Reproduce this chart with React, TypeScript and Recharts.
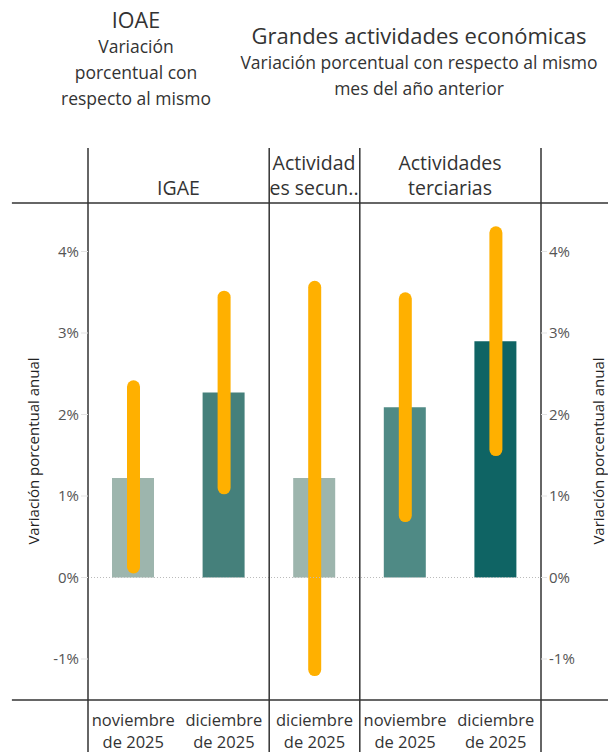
import React from "react";
import {
  ComposedChart,
  Bar,
  Cell,
  XAxis,
  YAxis,
  ReferenceLine,
} from "recharts";

// valores (variación porcentual anual)
const monthLabels = [
  ["noviembre", "de 2025"],
  ["diciembre", "de 2025"],
  ["diciembre", "de 2025"],
  ["noviembre", "de 2025"],
  ["diciembre", "de 2025"],
];
const positions = [0.5, 1.5, 2.5, 3.5, 4.5];
const estimates = [1.22, 2.27, 1.22, 2.09, 2.9];
const lowBounds = [0.13, 1.1, -1.13, 0.76, 1.57];
const highBounds = [2.34, 3.44, 3.56, 3.42, 4.23];
const barColors = ["#9db5ad", "#45807b", "#9db5ad", "#4f8a85", "#0f6464"];
const panelEdges = [0, 2, 3, 5];
const yTicks = [-1, 0, 1, 2, 3, 4];

const data = positions.map((x, i) => ({
  x,
  value: estimates[i],
  range: [lowBounds[i], highBounds[i]],
}));

const FONT = "'Open Sans', sans-serif";
const Y_DOMAIN: [number, number] = [-1.503, 4.595];

function RangeShape(props: any) {
  const { x, y, width, height } = props;
  const w = 13;
  const cx = x + width / 2;
  return (
    <rect
      x={cx - w / 2}
      y={y - w / 2}
      width={w}
      height={height + w}
      rx={w / 2}
      fill="#ffb000"
    />
  );
}

function MonthTick(props: any) {
  const { x, y, payload } = props;
  const idx = Math.floor(payload.value);
  const lines = monthLabels[idx] ?? [];
  return (
    <g>
      {lines.map((t, i) => (
        <text
          key={i}
          x={x}
          y={y + 24 + i * 22}
          textAnchor="middle"
          fontSize={16.5}
          fill="#333"
          fontFamily={FONT}
        >
          {t}
        </text>
      ))}
    </g>
  );
}

function Label({ text, cx, cy, size = 17.5, color = "#333" }: any) {
  return (
    <div
      style={{
        position: "absolute",
        left: cx - 200,
        width: 400,
        top: cy - 13,
        height: 26,
        lineHeight: "26px",
        textAlign: "center",
        fontSize: size,
        color,
        fontFamily: FONT,
        whiteSpace: "nowrap",
      }}
    >
      {text}
    </div>
  );
}

function AxisTitle({ cx }: { cx: number }) {
  return (
    <div
      style={{
        position: "absolute",
        left: cx - 150,
        top: 451 - 10,
        width: 300,
        height: 20,
        lineHeight: "20px",
        textAlign: "center",
        fontSize: 15,
        color: "#222",
        fontFamily: FONT,
        transform: "rotate(-90deg)",
        whiteSpace: "nowrap",
      }}
    >
      Variación porcentual anual
    </div>
  );
}

export default function App() {
  const tickStyle = { fontSize: 15, fill: "#555", fontFamily: FONT };
  return (
    <div
      style={{
        position: "absolute",
        left: 0,
        top: 0,
        width: 608,
        height: 752,
        background: "#fff",
        overflow: "hidden",
      }}
    >
      <Label text="IOAE" cx={136} cy={20} size={21.5} />
      <Label text="Variación" cx={136} cy={46} />
      <Label text="porcentual con" cx={136} cy={72} />
      <Label text="respecto al mismo" cx={136} cy={98} />
      <Label text="Grandes actividades económicas" cx={419} cy={35} size={22} />
      <Label text="Variación porcentual con respecto al mismo" cx={419} cy={62} />
      <Label text="mes del año anterior" cx={419} cy={88} />

      <Label text="IGAE" cx={178.5} cy={188} size={19.5} />
      <Label text="Actividad" cx={314} cy={163} size={19.5} />
      <Label text="es secun.." cx={314} cy={188} size={19.5} />
      <Label text="Actividades" cx={450} cy={163} size={19.5} />
      <Label text="terciarias" cx={450} cy={188} size={19.5} />

      <AxisTitle cx={33} />
      <AxisTitle cx={598} />

      <div style={{ position: "absolute", left: 0, top: 0 }}>
        <ComposedChart
          width={608}
          height={752}
          data={data}
          margin={{ top: 203, right: 0, bottom: 0, left: 0 }}
        >
          <XAxis
            xAxisId="bars"
            dataKey="x"
            type="number"
            domain={[0, 5]}
            ticks={positions}
            tick={<MonthTick />}
            tickLine={false}
            axisLine={false}
            tickSize={0}
            height={52}
            interval={0}
          />
          <XAxis
            xAxisId="range"
            dataKey="x"
            type="number"
            domain={[0, 5]}
            hide
          />
          <YAxis
            yAxisId="left"
            orientation="left"
            width={88}
            domain={Y_DOMAIN}
            ticks={yTicks}
            allowDataOverflow
            tickFormatter={(v: number) => `${v}%`}
            tick={tickStyle}
            tickLine={{ stroke: "#e3e3e3" }}
            tickSize={7}
            axisLine={false}
          />
          <YAxis
            yAxisId="right"
            orientation="right"
            width={67}
            domain={Y_DOMAIN}
            ticks={yTicks}
            allowDataOverflow
            tickFormatter={(v: number) => `${v}%`}
            tick={tickStyle}
            tickLine={{ stroke: "#e3e3e3" }}
            tickSize={6}
            axisLine={false}
          />
          <ReferenceLine
            xAxisId="bars"
            yAxisId="left"
            y={0}
            stroke="#bbb"
            strokeDasharray="1 2"
          />
          <Bar
            xAxisId="bars"
            yAxisId="left"
            dataKey="value"
            barSize={42}
            isAnimationActive={false}
          >
            {data.map((_, i) => (
              <Cell key={i} fill={barColors[i]} />
            ))}
          </Bar>
          <Bar
            xAxisId="range"
            yAxisId="right"
            dataKey="range"
            barSize={13}
            shape={<RangeShape />}
            isAnimationActive={false}
          />
          {panelEdges.map((e) => (
            <ReferenceLine
              key={e}
              xAxisId="bars"
              yAxisId="left"
              segment={[
                { x: e, y: 5.27 },
                { x: e, y: -2.2 },
              ]}
              stroke="#333"
              strokeWidth={1.5}
              ifOverflow="visible"
            />
          ))}
          {Y_DOMAIN.map((v) => (
            <ReferenceLine
              key={v}
              xAxisId="bars"
              yAxisId="left"
              segment={[
                { x: -0.84, y: v },
                { x: 5.8, y: v },
              ]}
              stroke="#333"
              strokeWidth={1.5}
              ifOverflow="visible"
            />
          ))}
        </ComposedChart>
      </div>
    </div>
  );
}
